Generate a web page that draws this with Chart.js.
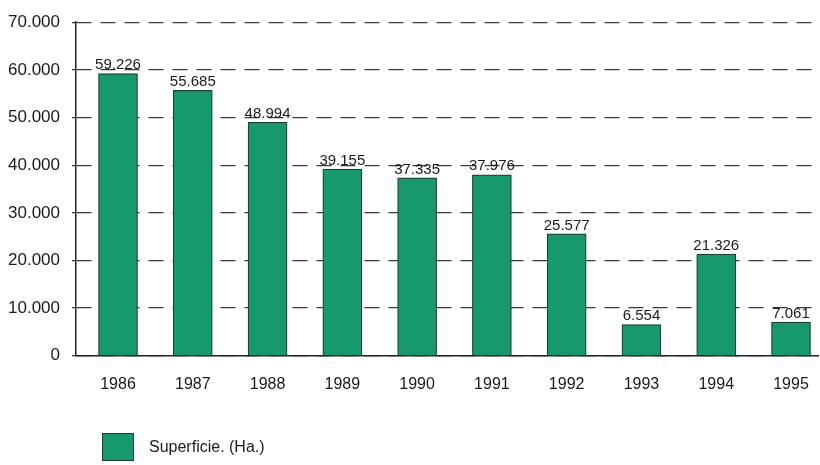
<!DOCTYPE html>
<html lang="es">
<head>
  <meta charset="UTF-8" />
  <title>Superficie (Ha.)</title>
  <style>
    body {
      margin: 0;
      background: #ffffff;
      font-family: 'Liberation Sans Narrow', 'Liberation Sans', Arial, sans-serif;
      overflow: hidden;
    }

    .wrap {
      position: relative;
      width: 820px;
      height: 465px;
    }

    .legend {
      position: absolute;
      left: 102px;
      top: 433px;
      display: flex;
      align-items: center;
      font-size: 16px;
      color: #1a1a1a;
    }

    .legend .box {
      width: 30px;
      height: 26px;
      background: #17986d;
      border: 1px solid #1e3d31;
      margin-right: 15px;
    }
  </style>
</head>
<body>
  <div class="wrap">
    <canvas id="chart" width="820" height="465"></canvas>
    <div class="legend"><span class="box"></span><span>Superficie. (Ha.)</span></div>
  </div>

  <script src="https://cdn.jsdelivr.net/npm/chart.js"></script>
  <script>
    const years = ['1986', '1987', '1988', '1989', '1990', '1991', '1992', '1993', '1994', '1995'];
    const superficie = [59226, 55685, 48994, 39155, 37335, 37976, 25577, 6554, 21326, 7061];
    const yTicks = [0, 10000, 20000, 30000, 40000, 50000, 60000, 70000];

    const FONT = "'Liberation Sans Narrow', 'Liberation Sans', Arial, sans-serif";

    // 59226 -> "59.226"
    function fmt(v) {
      return String(v).replace(/\B(?=(\d{3})+(?!\d))/g, '.');
    }

    // value labels above each bar
    const valueLabels = {
      id: 'valueLabels',
      afterDatasetsDraw(chart) {
        const ctx = chart.ctx;
        const meta = chart.getDatasetMeta(0);
        ctx.save();
        ctx.font = '15px ' + FONT;
        ctx.fillStyle = '#1a1a1a';
        ctx.textAlign = 'center';
        ctx.textBaseline = 'bottom';
        meta.data.forEach((bar, i) => {
          ctx.fillText(fmt(superficie[i]), bar.x, bar.y - 1);
        });
        ctx.restore();
      }
    };

    new Chart(document.getElementById('chart'), {
      type: 'bar',
      data: {
        datasets: [{
          label: 'Superficie. (Ha.)',
          data: superficie.map((v, i) => ({ x: i, y: v })),
          backgroundColor: '#17986d',
          borderColor: '#1e3d31',
          borderWidth: 1.2,
          barThickness: 39
        }]
      },
      options: {
        responsive: false,
        animation: false,
        layout: { padding: { top: 19, right: 2, bottom: 60, left: 0 } },
        plugins: {
          legend: { display: false },
          tooltip: { enabled: false }
        },
        scales: {
          x: {
            type: 'linear',
            offset: false,
            min: -0.5617,
            max: 9.361,
            afterBuildTicks: (axis) => {
              axis.ticks = years.map((y, i) => ({ value: i }));
            },
            afterFit: (axis) => {
              axis.paddingLeft = 0;
              axis.paddingRight = 0;
            },
            ticks: {
              callback: (v) => years[v],
              font: { family: FONT, size: 16 },
              color: '#1a1a1a',
              padding: 11,
              maxRotation: 0
            },
            grid: { display: false, offset: false },
            border: { display: true, color: '#222222', width: 1.5 }
          },
          y: {
            min: 0,
            max: 70000,
            afterBuildTicks: (axis) => {
              axis.ticks = yTicks.map((v) => ({ value: v }));
            },
            afterFit: (axis) => { axis.width = 76; },
            ticks: {
              callback: (v) => fmt(v),
              font: { family: FONT, size: 17 },
              color: '#1a1a1a',
              padding: 12
            },
            grid: {
              color: '#3a3a3a',
              lineWidth: 1.3,
              tickLength: 4
            },
            border: { display: true, color: '#222222', width: 1.5, dash: [15, 9] }
          }
        }
      },
      plugins: [valueLabels]
    });
  </script>
</body>
</html>
